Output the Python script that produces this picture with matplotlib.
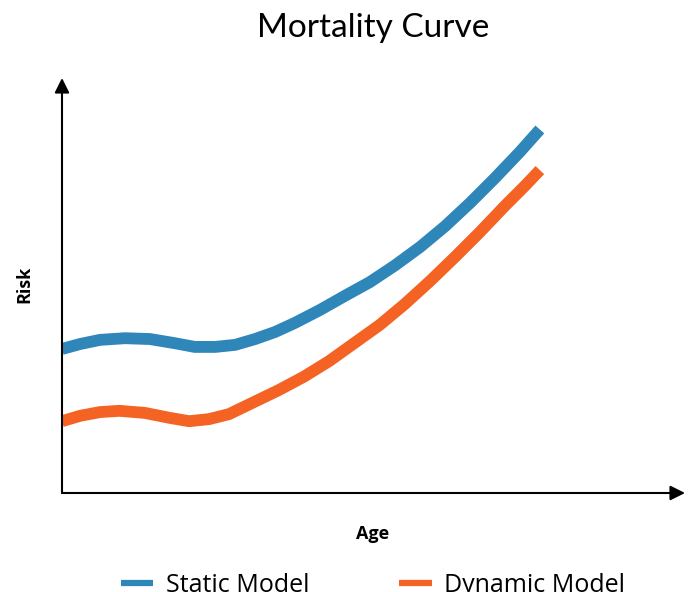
import matplotlib
matplotlib.use("Agg")
import matplotlib.pyplot as plt
from matplotlib.lines import Line2D

# ===============================
# Data
# ===============================
age_static = [0.0, 2.9, 6.1, 10.1, 14.1, 18.1, 21.3, 24.6, 27.8, 31.0, 34.2,
              37.4, 41.4, 45.4, 49.4, 53.5, 57.5, 61.5, 65.5, 69.5, 73.5, 76.7]
risk_static = [0.347, 0.359, 0.369, 0.373, 0.371, 0.361, 0.352, 0.352, 0.357, 0.371, 0.388,
               0.410, 0.441, 0.475, 0.508, 0.549, 0.593, 0.643, 0.699, 0.759, 0.822, 0.876]

age_dynamic = [0.0, 2.9, 6.1, 9.2, 13.3, 17.3, 20.4, 23.6, 26.8, 30.8, 34.8,
               38.8, 42.9, 46.9, 51.0, 55.0, 59.1, 63.1, 67.1, 71.1, 74.3, 76.7]
risk_dynamic = [0.173, 0.186, 0.195, 0.198, 0.193, 0.181, 0.173, 0.178, 0.190, 0.219, 0.248,
                0.280, 0.318, 0.361, 0.405, 0.455, 0.511, 0.569, 0.629, 0.692, 0.740, 0.778]

series_labels = ["Static Model", "Dynamic Model"]
colors = ["#2e86b9", "#f46323"]

# ===============================
# Figure
# ===============================
W, H = 691, 592
fig = plt.figure(figsize=(W / 100, H / 100), dpi=100)
ax = fig.add_axes([62 / W, 1 - 493 / H, (685 - 62) / W, (493 - 78) / H])

ax.plot(age_static, risk_static, color=colors[0], lw=8.5,
        solid_capstyle="butt", solid_joinstyle="round")
ax.plot(age_dynamic, risk_dynamic, color=colors[1], lw=8.5,
        solid_capstyle="butt", solid_joinstyle="round")

ax.set_xlim(0, 100)
ax.set_ylim(0, 1)
for s in ax.spines.values():
    s.set_visible(False)
ax.set_xticks([])
ax.set_yticks([])

# axis arrows
arrow = dict(arrowstyle="-|>", color="black", lw=1.5, mutation_scale=22,
             shrinkA=0, shrinkB=0)
ax.annotate("", xy=(1, 0), xytext=(0, 0), xycoords="axes fraction",
            arrowprops=arrow, annotation_clip=False)
ax.annotate("", xy=(0, 1), xytext=(0, 0), xycoords="axes fraction",
            arrowprops=arrow, annotation_clip=False)

# texts
fig.text(373 / W, 1 - 28 / H, "Mortality Curve", ha="center", va="center",
         fontsize=24, family="Lato", weight="normal", color="black")
fig.text(24 / W, 1 - 284 / H, "Risk", rotation=90, ha="center", va="center",
         fontsize=13, family="Open Sans", weight="bold")
fig.text(373 / W, 1 - 534 / H, "Age", ha="center", va="center",
         fontsize=13, family="Open Sans", weight="bold")

# legend (thinner proxy handles, like the reference)
handles = [Line2D([], [], color=c, lw=4.5, solid_capstyle="butt") for c in colors]
fig.legend(handles, series_labels, loc="upper center",
           bbox_to_anchor=(373 / W, 1 - 550 / H), ncol=2, frameon=False,
           handlelength=1.3, handletextpad=0.5, columnspacing=3.6,
           prop={"family": "Open Sans", "size": 18})

plt.savefig("out.png", dpi=100)
